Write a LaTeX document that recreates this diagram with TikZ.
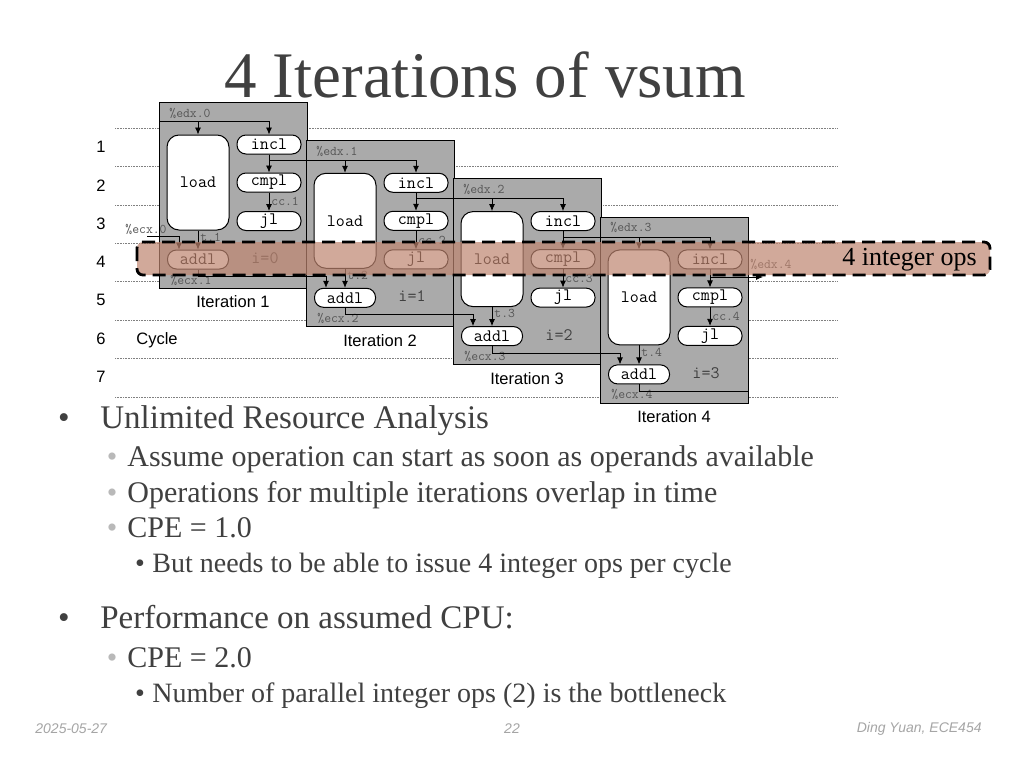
\documentclass[tikz,border=0pt]{standalone}
\usepackage{fontspec}
\setmainfont{Liberation Serif}
\setsansfont{Liberation Sans}
\usetikzlibrary{arrows.meta}
\definecolor{txtgray}{RGB}{64,64,64}
\definecolor{boxgray}{RGB}{170,170,170}
\definecolor{lblgray}{RGB}{85,85,85}
\definecolor{bandred}{RGB}{190,133,112}
\definecolor{footgray}{RGB}{165,165,165}
\definecolor{bulgray}{RGB}{185,185,185}
\begin{document}
\begin{tikzpicture}[x=1pt,y=-1pt,>={Latex[length=7pt,width=6pt]},line width=0.8pt,
  it box/.style={draw,fill=boxgray,line width=0.8pt,minimum width=148pt,minimum height=186pt,inner sep=0pt},
  op node/.style={draw,fill=white,rounded corners=9pt,line width=1pt,minimum width=64pt,minimum height=19pt,inner sep=0pt,font=\ttfamily\fontsize{17.5}{18}\selectfont},
  load node/.style={op node,rounded corners=12pt,minimum width=62pt,minimum height=95pt},
  small lbl/.style={inner sep=0pt,text=lblgray,font=\ttfamily\fontsize{13.3}{14}\selectfont},
  val lbl/.style={inner sep=0pt,text=txtgray,font=\ttfamily\fontsize{17.5}{18}\selectfont},
  it lbl/.style={inner sep=0pt,font=\sffamily\fontsize{16.5}{18}\selectfont},
  row lbl/.style={inner sep=0pt,font=\sffamily\fontsize{16.5}{18}\selectfont},
  grid line/.style={densely dotted,line width=0.6pt,gray},
  lvl one/.style={anchor=base west,inner sep=0pt,text=txtgray,font=\fontsize{33}{36}\selectfont},
  lvl two/.style={anchor=base west,inner sep=0pt,text=txtgray,font=\fontsize{30}{33}\selectfont},
  lvl three/.style={anchor=base west,inner sep=0pt,text=txtgray,font=\fontsize{28}{30}\selectfont},
  foot/.style={inner sep=0pt,text=footgray,font=\sffamily\itshape\fontsize{14}{16}\selectfont}]
\useasboundingbox[fill=white] (0,0) rectangle (1024,768);

% title
\node[anchor=base,inner sep=0pt,text=txtgray,font=\fontsize{65}{70}\selectfont] (title) at (485,97) {4 Iterations of vsum};

% cycle grid
\draw[grid line] (115,128) -- (838,128);
\draw[grid line] (115,166.5) -- (838,166.5);
\draw[grid line] (115,205) -- (838,205);
\draw[grid line] (115,243) -- (838,243);
\draw[grid line] (115,281.5) -- (838,281.5);
\draw[grid line] (115,320) -- (838,320);
\draw[grid line] (115,358) -- (838,358);
\draw[grid line] (115,397) -- (838,397);
\node[row lbl] (r1) at (101,147) {1};
\node[row lbl] (r2) at (101,185.3) {2};
\node[row lbl] (r3) at (101,223.6) {3};
\node[row lbl] (r4) at (101,262) {4};
\node[row lbl] (r5) at (101,300.2) {5};
\node[row lbl] (r6) at (101,338.5) {6};
\node[row lbl] (r7) at (101,376.8) {7};
\node[row lbl] (cyc) at (157,340) {Cycle};

% iteration boxes
\node[it box] (it1) at (233,195) {};
\node[it box] (it2) at (380,233.3) {};
\node[it box] (it3) at (527,271.6) {};
\node[it box] (it4) at (674,309.9) {};

\begin{scope}
\node[load node] (load1) at (198,182.5) {load};
\node[op node] (incl1) at (269,144.5) {incl};
\node[op node] (cmpl1) at (269,182.5) {cmpl};
\node[op node] (jl1) at (269,221) {jl};
\node[op node,minimum width=61pt] (addl1) at (198,259.5) {addl};
\node[small lbl,anchor=west] (edx0) at (169,113) {\%edx.0};
\node[small lbl,anchor=west] (ecx1) at (170,280) {\%ecx.1};
\node[val lbl] (i0) at (265,258) {i=0};
\node[it lbl] (n1) at (233,302) {Iteration 1};
\end{scope}

\begin{scope}[shift={(147,38.3)}]
\node[load node] (load2) at (198,182.5) {load};
\node[op node] (incl2) at (269,144.5) {incl};
\node[op node] (cmpl2) at (269,182.5) {cmpl};
\node[op node] (jl2) at (269,221) {jl};
\node[op node,minimum width=61pt] (addl2) at (198,259.5) {addl};
\node[small lbl,anchor=west] (edx1) at (169,113) {\%edx.1};
\node[small lbl,anchor=west] (ecx2) at (170,280) {\%ecx.2};
\node[val lbl] (i1) at (265,258) {i=1};
\node[it lbl] (n2) at (233,302) {Iteration 2};
\end{scope}

\begin{scope}[shift={(294,76.6)}]
\node[load node] (load3) at (198,182.5) {load};
\node[op node] (incl3) at (269,144.5) {incl};
\node[op node] (cmpl3) at (269,182.5) {cmpl};
\node[op node] (jl3) at (269,221) {jl};
\node[op node,minimum width=61pt] (addl3) at (198,259.5) {addl};
\node[small lbl,anchor=west] (edx2) at (169,113) {\%edx.2};
\node[small lbl,anchor=west] (ecx3) at (170,280) {\%ecx.3};
\node[val lbl] (i2) at (265,258) {i=2};
\node[it lbl] (n3) at (233,302) {Iteration 3};
\end{scope}

\begin{scope}[shift={(441,114.9)}]
\node[load node] (load4) at (198,182.5) {load};
\node[op node] (incl4) at (269,144.5) {incl};
\node[op node] (cmpl4) at (269,182.5) {cmpl};
\node[op node] (jl4) at (269,221) {jl};
\node[op node,minimum width=61pt] (addl4) at (198,259.5) {addl};
\node[small lbl,anchor=west] (edx3) at (169,113) {\%edx.3};
\node[small lbl,anchor=west] (ecx4) at (170,280) {\%ecx.4};
\node[val lbl] (i3) at (265,258) {i=3};
\node[it lbl] (n4) at (233,302) {Iteration 4};
\end{scope}

% inputs of iteration 1
\coordinate (edxin) at (159,121);
\coordinate (ecxin) at (147,236);
\node[small lbl] (ecx0) at (146,229) {\%ecx.0};
\draw[->] (edxin) -| (incl1.north);
\draw[->] (edxin -| load1.north) -- (load1.north);
\draw[->] (ecxin) -| ([xshift=-19pt]addl1.north);

% inside each iteration
\draw[->] (incl1) -- (cmpl1);
\draw[->] (cmpl1) -- node[small lbl,right=2pt] (cc1) {cc.1} (jl1);
\draw[->] (load1) -- node[small lbl,right=2pt,pos=0.35] (t1) {t.1} (addl1);
\draw[->] (incl2) -- (cmpl2);
\draw[->] (cmpl2) -- node[small lbl,right=2pt] (cc2) {cc.2} (jl2);
\draw[->] (load2) -- node[small lbl,right=2pt,pos=0.35] (t2) {t.2} (addl2);
\draw[->] (incl3) -- (cmpl3);
\draw[->] (cmpl3) -- node[small lbl,right=2pt] (cc3) {cc.3} (jl3);
\draw[->] (load3) -- node[small lbl,right=2pt,pos=0.35] (t3) {t.3} (addl3);
\draw[->] (incl4) -- (cmpl4);
\draw[->] (cmpl4) -- node[small lbl,right=2pt] (cc4) {cc.4} (jl4);
\draw[->] (load4) -- node[small lbl,right=2pt,pos=0.35] (t4) {t.4} (addl4);

% from one iteration to the next
\draw[->] (incl1.south) -- ++(0,6) coordinate (e1) -| (incl2.north);
\draw[->] (e1 -| load2.north) -- (load2.north);
\draw[->] (incl2.south) -- ++(0,6) coordinate (e2) -| (incl3.north);
\draw[->] (e2 -| load3.north) -- (load3.north);
\draw[->] (incl3.south) -- ++(0,6) coordinate (e3) -| (incl4.north);
\draw[->] (e3 -| load4.north) -- (load4.north);
\draw[->] (addl1.south) -- ++(0,7) -| ([xshift=-19pt]addl2.north);
\draw[->] (addl2.south) -- ++(0,7) -| ([xshift=-19pt]addl3.north);
\draw[->] (addl3.south) -- ++(0,7) -| ([xshift=-19pt]addl4.north);

% outputs of iteration 4
\coordinate (edxout) at (763,277);
\node[small lbl,anchor=west] (edx4) at (750,264) {\%edx.4};
\draw[->] (incl4.south) |- (edxout);
\draw (addl4.south) -- ++(0,7) coordinate (a4) -- (a4 -| it4.east);

% the four integer ops of cycle 4
\draw[fill=bandred,fill opacity=0.7,rounded corners=6pt,dashed,dash pattern=on 13pt off 7pt,line width=2.8pt] (137,242) rectangle (990,275);
\node[anchor=east,inner sep=0pt,font=\fontsize{26}{28}\selectfont] (ops) at (977,260) {4 integer ops};

% bullets
\node[anchor=base,inner sep=0pt,text=txtgray,font=\fontsize{33}{36}\selectfont] (d1) at (64,428) {•};
\node[lvl one] (l1) at (100,428) {Unlimited Resource Analysis};
\node[anchor=base,inner sep=0pt,text=bulgray,font=\fontsize{30}{33}\selectfont] (d2) at (112,466) {•};
\node[lvl two] (l2) at (127,466) {Assume operation can start as soon as operands available};
\node[anchor=base,inner sep=0pt,text=bulgray,font=\fontsize{30}{33}\selectfont] (d3) at (112,502) {•};
\node[lvl two] (l3) at (127,502) {Operations for multiple iterations overlap in time};
\node[anchor=base,inner sep=0pt,text=bulgray,font=\fontsize{30}{33}\selectfont] (d4) at (112,537) {•};
\node[lvl two] (l4) at (127,537) {CPE = 1.0};
\node[anchor=base,inner sep=0pt,text=txtgray,font=\fontsize{28}{30}\selectfont] (d5) at (140,572) {•};
\node[lvl three] (l5) at (152,572) {But needs to be able to issue 4 integer ops per cycle};
\node[anchor=base,inner sep=0pt,text=txtgray,font=\fontsize{33}{36}\selectfont] (d6) at (64,628) {•};
\node[lvl one] (l6) at (100,628) {Performance on assumed CPU:};
\node[anchor=base,inner sep=0pt,text=bulgray,font=\fontsize{30}{33}\selectfont] (d7) at (112,667) {•};
\node[lvl two] (l7) at (127,667) {CPE = 2.0};
\node[anchor=base,inner sep=0pt,text=txtgray,font=\fontsize{28}{30}\selectfont] (d8) at (140,702) {•};
\node[lvl three] (l8) at (152,702) {Number of parallel integer ops (2) is the bottleneck};

% footer
\node[foot,anchor=west] (date) at (35,729) {2025-05-27};
\node[foot] (page) at (512,729) {22};
\node[foot,anchor=east] (auth) at (982,729) {Ding Yuan, ECE454};
\end{tikzpicture}
\end{document}
